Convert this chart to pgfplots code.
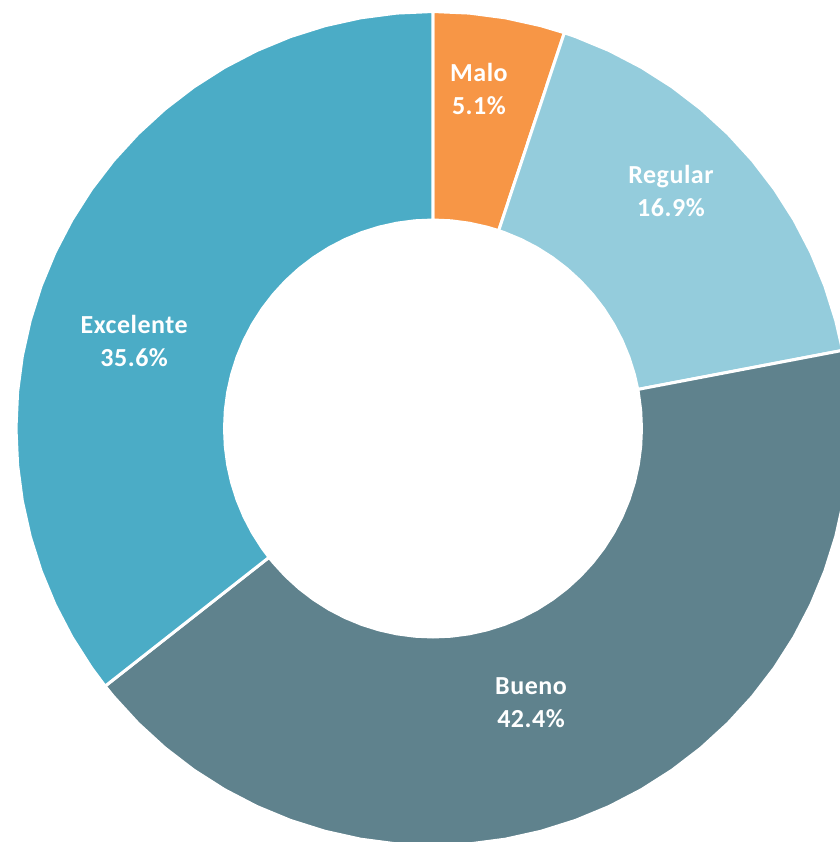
\documentclass[border=0pt]{standalone}
\usepackage{fontspec}
\setmainfont{Carlito}
\newfontfamily\lab{Carlito}[LetterSpace=2]
\usepackage{pgfplots}
\usepgfplotslibrary{polar}
\pgfplotsset{compat=1.18}

\definecolor{malo}{RGB}{247,150,70}
\definecolor{regular}{RGB}{148,204,220}
\definecolor{bueno}{RGB}{95,130,141}
\definecolor{excelente}{RGB}{75,172,198}
\tikzset{lbl/.style={text=white, align=center, font=\lab\bfseries\fontsize{13}{16.5}\selectfont}}

\begin{document}
\begin{tikzpicture}
\path[use as bounding box] (-216.5pt,-206.75pt) rectangle (203.5pt,214.25pt);
\begin{polaraxis}[
    at={(0,0)}, anchor=center,
    scale only axis,
    width=417pt, height=417pt,
    ymin=0, ymax=1,
    hide axis,
    clip=false,
    every axis plot/.append style={draw=white, line width=1.5pt, line join=round, mark=none},
]
% Malo 5.1%
\addplot[fill=malo] coordinates {
 (90,1)(85,1)(80,1)(75,1)(71.64,1)
 (71.64,0.5)(75,0.5)(80,0.5)(85,0.5)(90,0.5)(90,1)};
% Regular 16.9%
\addplot[fill=regular] coordinates {
 (71.64,1)(70,1)(65,1)(60,1)(55,1)(50,1)(45,1)(40,1)(35,1)(30,1)(25,1)(20,1)(15,1)(10.8,1)
 (10.8,0.5)(15,0.5)(20,0.5)(25,0.5)(30,0.5)(35,0.5)(40,0.5)(45,0.5)(50,0.5)(55,0.5)(60,0.5)(65,0.5)(70,0.5)(71.64,0.5)(71.64,1)};
% Bueno 42.4%
\addplot[fill=bueno] coordinates {
 (10.8,1)(10,1)(5,1)(0,1)(-5,1)(-10,1)(-15,1)(-20,1)(-25,1)(-30,1)(-35,1)(-40,1)(-45,1)(-50,1)(-55,1)(-60,1)(-65,1)(-70,1)
 (-75,1)(-80,1)(-85,1)(-90,1)(-95,1)(-100,1)(-105,1)(-110,1)(-115,1)(-120,1)(-125,1)(-130,1)(-135,1)(-140,1)(-141.84,1)
 (-141.84,0.5)(-140,0.5)(-135,0.5)(-130,0.5)(-125,0.5)(-120,0.5)(-115,0.5)(-110,0.5)(-105,0.5)(-100,0.5)(-95,0.5)(-90,0.5)
 (-85,0.5)(-80,0.5)(-75,0.5)(-70,0.5)(-65,0.5)(-60,0.5)(-55,0.5)(-50,0.5)(-45,0.5)(-40,0.5)(-35,0.5)(-30,0.5)(-25,0.5)(-20,0.5)
 (-15,0.5)(-10,0.5)(-5,0.5)(0,0.5)(5,0.5)(10,0.5)(10.8,0.5)(10.8,1)};
% Excelente 35.6%
\addplot[fill=excelente] coordinates {
 (218.16,1)(215,1)(210,1)(205,1)(200,1)(195,1)(190,1)(185,1)(180,1)(175,1)(170,1)(165,1)(160,1)(155,1)(150,1)(145,1)(140,1)
 (135,1)(130,1)(125,1)(120,1)(115,1)(110,1)(105,1)(100,1)(95,1)(90,1)
 (90,0.5)(95,0.5)(100,0.5)(105,0.5)(110,0.5)(115,0.5)(120,0.5)(125,0.5)(130,0.5)(135,0.5)(140,0.5)(145,0.5)(150,0.5)(155,0.5)
 (160,0.5)(165,0.5)(170,0.5)(175,0.5)(180,0.5)(185,0.5)(190,0.5)(195,0.5)(200,0.5)(205,0.5)(210,0.5)(215,0.5)(218.16,0.5)(218.16,1)};

\node[lbl] at (axis cs:82.3,0.822) {Malo\\5.1\%};
\node[lbl] at (axis cs:45,0.807) {Regular\\16.9\%};
\node[lbl] at (axis cs:163.6,0.747) {Excelente\\35.6\%};
\node[lbl] at (axis cs:-70.35,0.699) {Bueno\\42.4\%};
\end{polaraxis}
\end{tikzpicture}
\end{document}
